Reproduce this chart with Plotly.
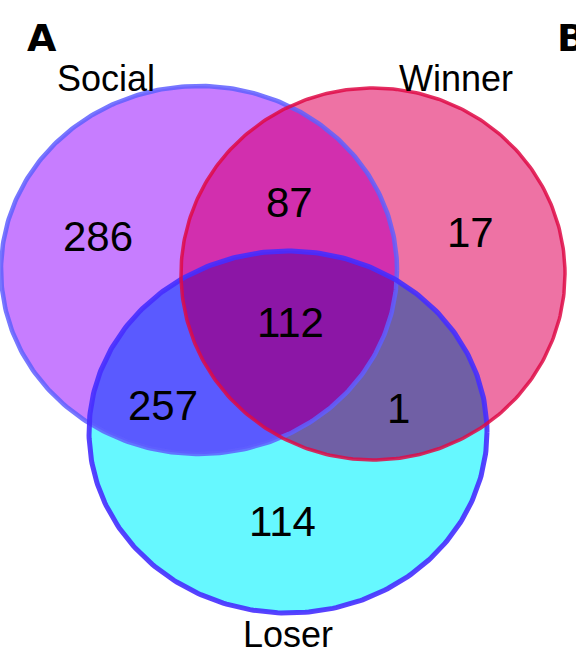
import numpy as np
import plotly.graph_objects as go

# Set names and region counts
set_names = ["Social", "Winner", "Loser"]
region_keys = ["S", "W", "L", "SW", "SL", "WL", "SWL"]
region_counts = [286, 17, 114, 87, 257, 1, 112]

# Ellipse geometry (centre x, centre y, radius x, radius y) in page pixels
ellipses = {
    "S": (199, 270, 198, 184),
    "W": (373, 274, 192, 186),
    "L": (288, 432, 199, 181),
}
region_colors = {
    "S": "#c77dff", "W": "#ee72a4", "L": "#66f8ff",
    "SW": "#d22fae", "SL": "#5a5aff", "WL": "#705fa5", "SWL": "#8c16a6",
}
border_colors = {"S": "rgba(95,95,255,0.85)", "W": "rgba(222,10,70,0.85)",
                 "L": "rgba(70,45,255,0.9)"}
border_widths = {"S": 4.5, "W": 3.5, "L": 5}

label_pos = {
    "S": (98, 236), "W": (470, 232), "L": (282, 521),
    "SW": (289, 202), "SL": (163, 405), "WL": (398, 408), "SWL": (290, 322),
}
name_pos = {"Social": (106, 78), "Winner": (456, 78), "Loser": (288, 634)}


def ellipse_poly(cx, cy, rx, ry, n=360):
    t = np.linspace(0, 2 * np.pi, n, endpoint=False)
    return np.column_stack([cx + rx * np.cos(t), cy + ry * np.sin(t)])


def clip(subject, clipper):
    """Sutherland-Hodgman clipping of a polygon by a convex polygon."""
    out = [tuple(p) for p in subject]
    c = clipper.mean(axis=0)
    n = len(clipper)
    for i in range(n):
        a = clipper[i]
        b = clipper[(i + 1) % n]
        d = b - a

        def side(p):
            return d[0] * (p[1] - a[1]) - d[1] * (p[0] - a[0])

        sc = np.sign(side(c))
        inp = out
        out = []
        if not inp:
            break
        m = len(inp)
        for j in range(m):
            p = np.array(inp[j - 1])
            q = np.array(inp[j])
            sp = side(p) * sc
            sq = side(q) * sc
            if sq >= 0:
                if sp < 0:
                    t = sp / (sp - sq)
                    out.append(tuple(p + t * (q - p)))
                out.append(tuple(q))
            elif sp >= 0:
                t = sp / (sp - sq)
                out.append(tuple(p + t * (q - p)))
    return np.array(out)


polys = {k: ellipse_poly(*v) for k, v in ellipses.items()}
polys["SW"] = clip(polys["S"], polys["W"])
polys["SL"] = clip(polys["S"], polys["L"])
polys["WL"] = clip(polys["W"], polys["L"])
polys["SWL"] = clip(polys["SW"], polys["L"])

fig = go.Figure()
for key in ["S", "W", "L", "SW", "SL", "WL", "SWL"]:
    p = polys[key]
    xs = list(p[:, 0]) + [p[0, 0]]
    ys = list(p[:, 1]) + [p[0, 1]]
    fig.add_trace(go.Scatter(x=xs, y=ys, mode="lines", fill="toself",
                             fillcolor=region_colors[key],
                             line=dict(width=0, color=region_colors[key]),
                             hoverinfo="skip", showlegend=False))

for key in ["S", "L", "W"]:
    p = polys[key]
    xs = list(p[:, 0]) + [p[0, 0]]
    ys = list(p[:, 1]) + [p[0, 1]]
    fig.add_trace(go.Scatter(x=xs, y=ys, mode="lines",
                             line=dict(width=border_widths[key], color=border_colors[key]),
                             hoverinfo="skip", showlegend=False))

num_font = dict(family="Liberation Sans, Arial, sans-serif", size=42, color="black")
for key, cnt in zip(region_keys, region_counts):
    x, y = label_pos[key]
    fig.add_annotation(x=x, y=y, text=str(cnt), showarrow=False, font=num_font)

name_font = dict(family="Liberation Sans, Arial, sans-serif", size=36, color="black")
for name in set_names:
    x, y = name_pos[name]
    fig.add_annotation(x=x, y=y, text=name, showarrow=False, font=name_font)

panel_font = dict(family="DejaVu Sans, sans-serif", size=38, color="black")
fig.add_annotation(x=42, y=38, text="<b>A</b>", showarrow=False, font=panel_font)
fig.add_annotation(x=555, y=38, text="<b>B</b>", showarrow=False, xanchor="left",
                   font=panel_font)

fig.update_layout(
    width=576, height=654, margin=dict(l=0, r=0, t=0, b=0),
    paper_bgcolor="white", plot_bgcolor="white",
    xaxis=dict(range=[0, 576], visible=False, fixedrange=True),
    yaxis=dict(range=[654, 0], visible=False, fixedrange=True),
)
fig.write_html("out.html")
